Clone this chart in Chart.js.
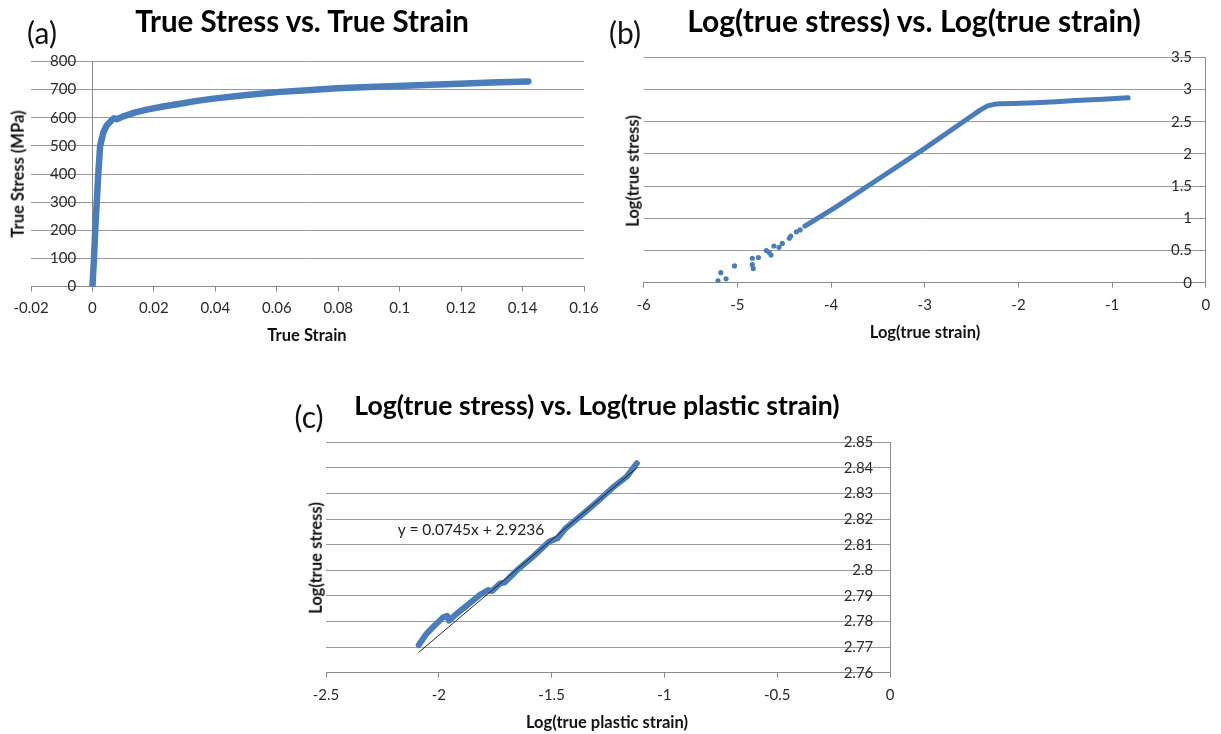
<!DOCTYPE html>
<html>
<head>
<meta charset="utf-8">
<script src="https://cdn.jsdelivr.net/npm/chart.js@4.4.1/dist/chart.umd.min.js"></script>
<style>
  html, body { margin: 0; padding: 0; background: #fff; }
  body { width: 1221px; height: 734px; position: relative; overflow: hidden; font-family: Lato, "Open Sans", sans-serif; }
  canvas { position: absolute; }
  .t { position: absolute; white-space: nowrap; transform: translate(-50%, -50%); color: #000; line-height: 1; }
  .title { font-weight: bold; }
  .tag { font-size: 30px; color: #111; }
  .ax { font-weight: bold; font-size: 16.5px; color: #111; }
  .rot { transform: translate(-50%, -50%) rotate(-90deg); }
  .eq { font-size: 15.5px; color: #222; }
</style>
</head>
<body>
<canvas id="chartA" width="610" height="340" style="left:0px;top:0px;width:610px;height:340px"></canvas>
<canvas id="chartB" width="621" height="340" style="left:600px;top:0px;width:621px;height:340px"></canvas>
<canvas id="chartC" width="640" height="354" style="left:280px;top:380px;width:640px;height:354px"></canvas>

<div class="t tag" style="left:42px;top:32px">(a)</div>
<div class="t title" style="left:302px;top:21px;font-size:29.5px">True Stress vs. True Strain</div>
<div class="t ax" style="left:307px;top:335px">True Strain</div>
<div class="t ax rot" style="left:18px;top:174px">True Stress (MPa)</div>

<div class="t tag" style="left:625px;top:32px">(b)</div>
<div class="t title" style="left:914px;top:20px;font-size:30px">Log(true stress) vs. Log(true strain)</div>
<div class="t ax" style="left:925px;top:332px">Log(true strain)</div>
<div class="t ax rot" style="left:633px;top:171px">Log(true stress)</div>

<div class="t tag" style="left:309px;top:416px">(c)</div>
<div class="t title" style="left:597px;top:405px;font-size:26.6px">Log(true stress) vs. Log(true plastic strain)</div>
<div class="t ax" style="left:607px;top:722px">Log(true plastic strain)</div>
<div class="t ax rot" style="left:316px;top:558px">Log(true stress)</div>
<div class="t eq" style="left:471px;top:530px">y = 0.0745x + 2.9236</div>

<script>
// ---- (a) true stress vs. true strain ----
const strainA = [0, 0.0005, 0.0009, 0.0014, 0.0019, 0.0025, 0.0035, 0.0046, 0.0063, 0.0070, 0.0079,
                 0.0101, 0.0140, 0.0177, 0.0230, 0.0285, 0.0340, 0.0394, 0.0502, 0.0611, 0.0700, 0.0796,
                 0.0900, 0.0995, 0.1100, 0.1195, 0.1300, 0.1419];
const stressA = [0, 100, 200, 300, 400, 500, 546, 572, 592, 598, 595,
                 605, 619, 629, 640, 650, 660, 668, 681, 692, 698, 705,
                 709, 713, 717, 721, 725, 729];
const xTicksA = [-0.02, 0, 0.02, 0.04, 0.06, 0.08, 0.1, 0.12, 0.14, 0.16];
const xLabelsA = ['-0.02', '0', '0.02', '0.04', '0.06', '0.08', '0.1', '0.12', '0.14', '0.16'];
const yTicksA = [0, 100, 200, 300, 400, 500, 600, 700, 800];
const yLabelsA = ['0', '100', '200', '300', '400', '500', '600', '700', '800'];

// ---- (b) log(true stress) vs. log(true strain) ----
// scattered readings at the low-strain end
const logStrainPts = [-5.206, -5.176, -5.12, -5.03, -4.84, -4.84, -4.83, -4.775, -4.69, -4.66, -4.64, -4.61,
                      -4.555, -4.52, -4.445, -4.43, -4.37, -4.33];
const logStressPts = [0.03, 0.155, 0.06, 0.26, 0.38, 0.28, 0.22, 0.39, 0.50, 0.47, 0.43, 0.57,
                      0.55, 0.61, 0.69, 0.725, 0.79, 0.82];
// densely sampled part of the record
const logStrainLine = [-4.28, -3.97, -3.51, -3.0, -2.535, -2.41, -2.33, -2.26, -2.2, -2.05, -1.82, -1.6, -1.395, -1.1, -0.83];
const logStressLine = [0.88, 1.155, 1.595, 2.087, 2.553, 2.68, 2.745, 2.77, 2.778, 2.782, 2.795, 2.81, 2.83, 2.85, 2.871];
const xTicksB = [-6, -5, -4, -3, -2, -1, 0];
const xLabelsB = ['-6', '-5', '-4', '-3', '-2', '-1', '0'];
const yTicksB = [0, 0.5, 1, 1.5, 2, 2.5, 3, 3.5];
const yLabelsB = ['0', '0.5', '1', '1.5', '2', '2.5', '3', '3.5'];

// ---- (c) log(true stress) vs. log(true plastic strain) ----
const logPlasticStrain = [-2.089, -2.053, -2.017, -1.981, -1.963, -1.954, -1.927, -1.872, -1.818, -1.782, -1.764,
                          -1.728, -1.709, -1.655, -1.583, -1.511, -1.474, -1.438, -1.366, -1.293, -1.221, -1.167, -1.122];
const logStressC = [2.7708, 2.7754, 2.7786, 2.7816, 2.7822, 2.7803, 2.7826, 2.7865, 2.7904, 2.7923, 2.7919,
                    2.7949, 2.7952, 2.7999, 2.8053, 2.8112, 2.8125, 2.8164, 2.8216, 2.8272, 2.8329, 2.8366, 2.8418];
// linear fit shown on the chart: y = 0.0745x + 2.9236
const trendSlope = 0.0745;
const trendIntercept = 2.9236;
const trendRange = [-2.09, -1.12];
const xTicksC = [-2.5, -2, -1.5, -1, -0.5, 0];
const xLabelsC = ['-2.5', '-2', '-1.5', '-1', '-0.5', '0'];
const yTicksC = [2.76, 2.77, 2.78, 2.79, 2.8, 2.81, 2.82, 2.83, 2.84, 2.85];
const yLabelsC = ['2.76', '2.77', '2.78', '2.79', '2.8', '2.81', '2.82', '2.83', '2.84', '2.85'];

// ---- shared styling ----
const BLUE = '#4a7dba';
const GRID = '#9a9a9a';
const AXIS = '#8a8a8a';
const TICK_FONT = { family: 'Lato', size: 15 };
const TICK_COLOR = '#2a2a2a';

const pts = (xs, ys) => xs.map((x, i) => ({ x, y: ys[i] }));

function xScale(ticks, labels) {
  return {
    type: 'linear', position: 'bottom',
    min: ticks[0], max: ticks[ticks.length - 1],
    afterBuildTicks: s => { s.ticks = ticks.map(v => ({ value: v })); },
    afterFit: s => { s.height = 30; },
    ticks: { autoSkip: false, maxRotation: 0, padding: 8, font: TICK_FONT, color: TICK_COLOR,
             callback: (v, i) => labels[i] },
    grid: { drawOnChartArea: false, drawTicks: true, tickLength: 5, color: AXIS, lineWidth: 1 },
    border: { color: AXIS, width: 1 }
  };
}

// value axis: gridlines and the axis line where x = 0
function yGridScale(ticks) {
  return {
    type: 'linear', position: { x: 0 },
    min: ticks[0], max: ticks[ticks.length - 1],
    afterBuildTicks: s => { s.ticks = ticks.map(v => ({ value: v })); },
    ticks: { display: false },
    grid: { drawTicks: false, color: GRID, lineWidth: 1 },
    border: { color: AXIS, width: 1 }
  };
}

// value-axis labels, right-aligned just left of the axis line
function yLabelScale(ticks, labels, labelX) {
  return {
    type: 'linear', position: { x: labelX },
    min: ticks[0], max: ticks[ticks.length - 1],
    afterBuildTicks: s => { s.ticks = ticks.map(v => ({ value: v })); },
    ticks: { autoSkip: false, font: TICK_FONT, color: TICK_COLOR, callback: (v, i) => labels[i] },
    grid: { display: false, drawTicks: false },
    border: { display: false }
  };
}

function baseOptions(padding, xs, ys, yl) {
  return {
    responsive: false, animation: false, devicePixelRatio: 1,
    layout: { padding, autoPadding: false },
    plugins: { legend: { display: false }, tooltip: { enabled: false } },
    scales: { x: xs, y: ys, yl }
  };
}

new Chart(document.getElementById('chartA'), {
  type: 'scatter',
  data: { datasets: [{
    data: pts(strainA, stressA), showLine: true, borderColor: BLUE, borderWidth: 6.5,
    borderJoinStyle: 'round', borderCapStyle: 'round', pointRadius: 0, tension: 0
  }] },
  options: baseOptions({ left: 31, right: 26, top: 61.5, bottom: 23.5 },
                       xScale(xTicksA, xLabelsA), yGridScale(yTicksA), yLabelScale(yTicksA, yLabelsA, -0.0053))
});

new Chart(document.getElementById('chartB'), {
  type: 'scatter',
  data: { datasets: [
    { data: pts(logStrainPts, logStressPts), pointRadius: 2.6, pointBackgroundColor: BLUE,
      pointBorderWidth: 0, showLine: false },
    { data: pts(logStrainLine, logStressLine), showLine: true, borderColor: BLUE, borderWidth: 5,
      borderJoinStyle: 'round', borderCapStyle: 'round', pointRadius: 0, tension: 0 }
  ] },
  options: baseOptions({ left: 43.6, right: 15.1, top: 57.3, bottom: 27.3 },
                       xScale(xTicksB, xLabelsB), yGridScale(yTicksB), yLabelScale(yTicksB, yLabelsB, -0.148))
});

new Chart(document.getElementById('chartC'), {
  type: 'scatter',
  data: { datasets: [
    { order: 0, data: trendRange.map(x => ({ x, y: trendSlope * x + trendIntercept })),
      showLine: true, borderColor: '#262626', borderWidth: 1, pointRadius: 0 },
    { order: 1, data: pts(logPlasticStrain, logStressC), showLine: true, borderColor: BLUE, borderWidth: 6,
      borderJoinStyle: 'round', borderCapStyle: 'round', pointRadius: 0, tension: 0 }
  ] },
  options: baseOptions({ left: 46, right: 30, top: 62.3, bottom: 31.3 },
                       xScale(xTicksC, xLabelsC), yGridScale(yTicksC), yLabelScale(yTicksC, yLabelsC, -0.074))
});
</script>
</body>
</html>
